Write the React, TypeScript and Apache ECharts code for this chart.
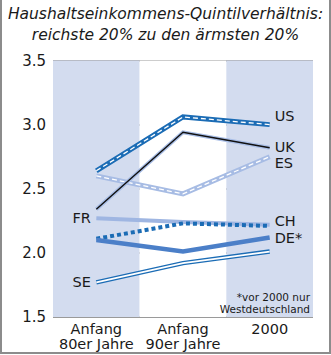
import React, { useEffect, useRef } from "react";
import * as echarts from "echarts";

const categories = ["Anfang\n80er Jahre", "Anfang\n90er Jahre", "2000"];
const yTicks = { min: 1.5, max: 3.5, interval: 0.5 };
const US = [2.64, 3.06, 3.0];
const UK = [2.34, 2.94, 2.82];
const ES = [2.6, 2.46, 2.75];
const FR = [2.27, 2.24, 2.22];
const CH = [2.11, 2.23, 2.21];
const DE = [2.1, 2.01, 2.12];
const SE = [1.77, 1.92, 2.01];
const titleLines = ["Haushaltseinkommens-Quintilverhältnis:", "reichste 20% zu den ärmsten 20%"];
const footnote = ["*vor 2000 nur", "Westdeutschland"];

const FONT = "DejaVu Sans";
const labelStyle = { color: "#1a1a1a", fontSize: 14.5, fontFamily: FONT };

function endLabel(text: string, offset: number[] = [0, 0]) {
  return { show: true, formatter: text, distance: 5, offset, ...labelStyle };
}

function startLabel(data: number[], text: string) {
  return data.map((v, i) =>
    i === 0
      ? { value: v, label: { show: true, position: "left", distance: 5, formatter: text, ...labelStyle } }
      : v
  );
}

function line(name: string, data: any[], style: any, extra: any = {}) {
  return {
    type: "line",
    name,
    data,
    symbol: "none",
    silent: true,
    lineStyle: { cap: "butt", join: "miter", ...style },
    ...extra,
  };
}

const labelled = {
  symbol: "circle",
  symbolSize: 1,
  showSymbol: true,
  itemStyle: { color: "rgba(0,0,0,0)" },
};

export default function App() {
  const ref = useRef<HTMLDivElement>(null);
  useEffect(() => {
    const chart = echarts.init(ref.current!, null, { renderer: "svg" });
    chart.setOption({
      animation: false,
      textStyle: { fontFamily: FONT },
      grid: { left: 53, right: 18, top: 60.5, bottom: 38 },
      xAxis: {
        type: "category",
        data: categories,
        boundaryGap: true,
        axisLine: { show: false },
        axisTick: { show: false },
        axisLabel: {
          color: "#1a1a1a",
          fontSize: 14.5,
          lineHeight: 14.5,
          margin: 5,
          interval: 0,
          verticalAlign: "top",
          fontFamily: FONT,
        },
        splitArea: { show: true, interval: 0, areaStyle: { color: ["#d3dcef", "#ffffff"] } },
      },
      yAxis: {
        type: "value",
        min: yTicks.min,
        max: yTicks.max,
        interval: yTicks.interval,
        axisLine: { show: false },
        axisTick: { show: false },
        axisLabel: {
          color: "#1a1a1a",
          fontSize: 15,
          margin: 7,
          fontFamily: FONT,
          formatter: (v: number) => v.toFixed(1),
        },
        splitLine: { lineStyle: { color: "#9a9a9a", width: 2 } },
      },
      series: [
        line("ES", ES, { color: "#a7bce4", width: 5 }),
        line("ES-in", ES, { color: "#ffffff", width: 1.3, type: [5, 3] }, { endLabel: endLabel("ES", [0, 6]) }),
        line("UK-halo", UK, { color: "#a9bee6", width: 4 }),
        line("UK", UK, { color: "#111111", width: 1.4 }, { endLabel: endLabel("UK", [0, -1]) }),
        line("US", US, { color: "#1b6cb5", width: 5 }),
        line("US-in", US, { color: "#ffffff", width: 1.3, type: [5, 3] }, { endLabel: endLabel("US", [0, -9]) }),
        line("FR", startLabel(FR, "FR"), { color: "#9fb6e2", width: 4 }, labelled),
        line("CH", CH, { color: "#1b6cb5", width: 4, type: [4, 3] }, { endLabel: endLabel("CH", [0, -5]) }),
        line("DE", DE, { color: "#4b7fc8", width: 4.5 }, { endLabel: endLabel("DE*", [0, 1]) }),
        line("SE", startLabel(SE, "SE"), { color: "#1b6cb5", width: 4.5 }, labelled),
        line("SE-in", SE, { color: "#ffffff", width: 1.8 }),
      ],
      graphic: [
        ...titleLines.map((t, i) => ({
          type: "text",
          left: "center",
          top: 6 + i * 21,
          z: 100,
          style: {
            text: t,
            fontFamily: FONT,
            fontStyle: "italic",
            fontSize: 15.5,
            fill: "#1a1a1a",
          },
        })),
        ...footnote.map((t, i) => ({
          type: "text",
          right: 21,
          top: 291 + i * 12,
          z: 100,
          style: {
            text: t,
            fontFamily: FONT,
            fontSize: 10.5,
            fill: "#1a1a1a",
          },
        })),
        {
          type: "rect",
          z: 100,
          shape: { x: 1, y: -2, width: 329, height: 355 },
          style: { fill: "none", stroke: "#8c8c8c", lineWidth: 2 },
          silent: true,
        },
      ],
    });
    return () => chart.dispose();
  }, []);
  return (
    <div
      ref={ref}
      style={{ position: "fixed", left: 0, top: 0, width: 331, height: 355, background: "#ffffff" }}
    />
  );
}
